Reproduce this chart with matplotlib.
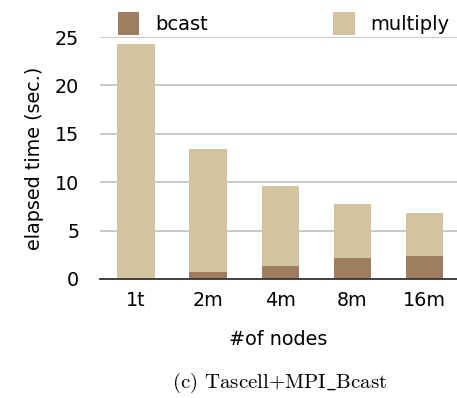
import matplotlib
matplotlib.use("Agg")
import matplotlib.pyplot as plt
import numpy as np

plt.rcParams["mathtext.fontset"] = "cm"

categories = ["1t", "2m", "4m", "8m", "16m"]
bcast = [0.0, 0.72, 1.34, 2.17, 2.38]
multiply_total = [24.28, 13.43, 9.60, 7.75, 6.82]
yticks = [0, 5, 10, 15, 20, 25]

multiply = [t - b for t, b in zip(multiply_total, bcast)]

c_bcast = "#9E7E5E"
c_mult = "#D2C49C"

fig = plt.figure(figsize=(4.57, 3.98), dpi=100)
ax = fig.add_axes([0.219, 0.299, 0.781, 0.608])

x = np.arange(len(categories))
w = 0.52
ax.bar(x, bcast, w, color=c_bcast, label="bcast", zorder=3)
ax.bar(x, multiply, w, bottom=bcast, color=c_mult, label="multiply", zorder=3)

ax.set_xlim(-0.5, 4.45)
ax.set_ylim(0, 25)
ax.set_yticks(yticks)
ax.set_xticks(x)
ax.set_xticklabels(categories)
ax.tick_params(axis="both", length=0, labelsize=13.8)
ax.tick_params(axis="x", pad=9)
ax.tick_params(axis="y", pad=15)
ax.yaxis.grid(True, color="#C4C4C4", linewidth=1.3, zorder=0)
ax.set_axisbelow(True)
for s in ["left", "right", "top"]:
    ax.spines[s].set_visible(False)
ax.spines["bottom"].set_color("#333333")
ax.spines["bottom"].set_linewidth(1.3)
ax.spines["bottom"].set_zorder(4)

ax.set_ylabel("elapsed time (sec.)", fontsize=13.8, labelpad=8)
ax.set_xlabel("#of nodes", fontsize=13.8, labelpad=14)

ax.legend(ncol=2, mode="expand", loc="lower left",
          bbox_to_anchor=(0.028, 0.975, 0.972, 0.1), frameon=False,
          fontsize=14, handlelength=1.1, handleheight=1.5,
          handletextpad=0.8, borderaxespad=0.0)

fig.text(0.612, 0.037, r"(c) Tascell+MPI$\_$Bcast", ha="center", va="center",
         fontsize=15, family="cmr10")

fig.savefig("out.png", dpi=100)
